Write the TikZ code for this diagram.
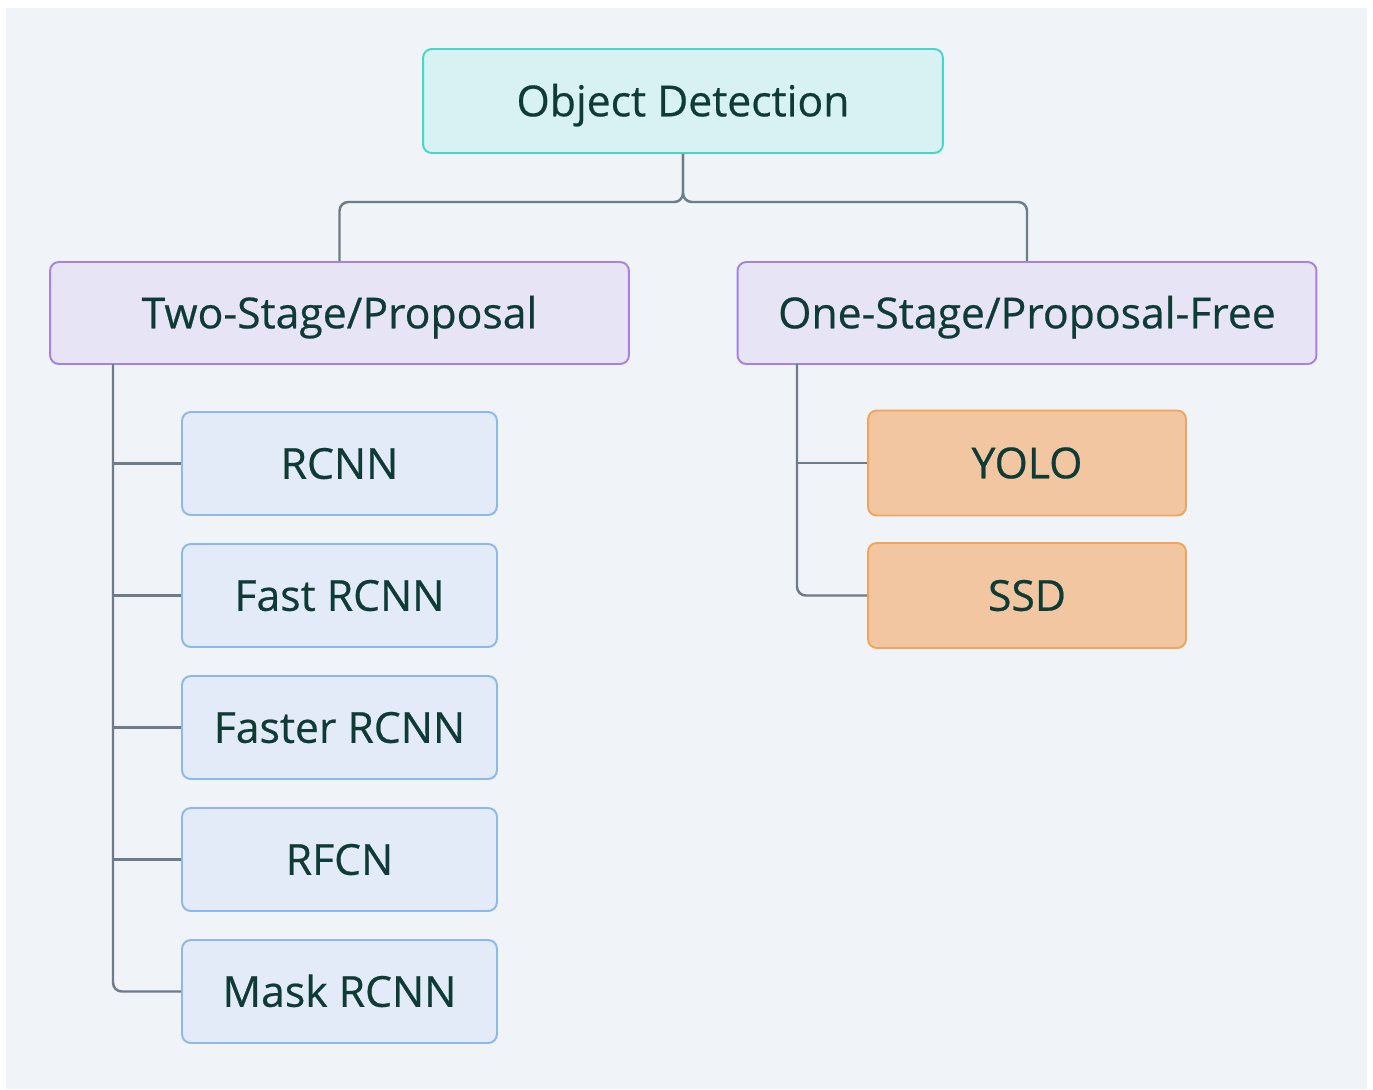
\documentclass[tikz,border=0pt]{standalone}
\usepackage{fontspec}
\setmainfont{Open Sans}
\newfontfamily\boxfont[FakeBold=0.5]{Open Sans}
\usetikzlibrary{positioning}

\definecolor{bgcol}{HTML}{F0F3F8}
\definecolor{txtcol}{HTML}{0F3B37}
\definecolor{linkcol}{HTML}{6E7C8A}
\definecolor{rootfill}{HTML}{D8F2F3}
\definecolor{rootdraw}{HTML}{45D8C8}
\definecolor{catfill}{HTML}{E7E4F6}
\definecolor{catdraw}{HTML}{A582E6}
\definecolor{twofill}{HTML}{E2EBF7}
\definecolor{twodraw}{HTML}{8BB8EE}
\definecolor{onefill}{HTML}{F2C6A0}
\definecolor{onedraw}{HTML}{F0A45C}

\tikzset{
	box/.style={draw, line width=1.1pt, rounded corners=5pt, text=txtcol,
		font=\boxfont\fontsize{24.3}{28}\selectfont, inner sep=0pt,
		text height=17.4pt, text depth=0pt},
	rootbox/.style={box, fill=rootfill, draw=rootdraw, minimum width=10.4cm, minimum height=2.08cm},
	catbox/.style={box, fill=catfill, draw=catdraw, minimum width=11.58cm, minimum height=2.04cm},
	twobox/.style={box, fill=twofill, draw=twodraw, minimum width=6.3cm, minimum height=2.06cm},
	onebox/.style={box, fill=onefill, draw=onedraw, minimum width=6.36cm, minimum height=2.1cm},
	link/.style={draw=linkcol, line width=1.4pt}
}

\begin{document}
\begin{tikzpicture}[x=0.02cm, y=-0.02cm]
		% page and backdrop
		\useasboundingbox (0,0) rectangle (1373,1089);
		\fill[bgcol] (6,8) rectangle (1367,1089);

		% root and the two families
		\node[rootbox] (od) at (683,101) {Object Detection};
		\node[catbox] (two) at (339.5,313) {Two-Stage/Proposal};
		\node[catbox] (one) at (1027,313) {One-Stage/Proposal-Free};

		\coordinate (split) at (683,202);
		\draw[link, rounded corners=5pt] (od.south) -- (split) -| (two.north);
		\draw[link, rounded corners=5pt] (od.south) -- (split) -| (one.north);

		% two-stage detectors, hung off one spine
		\coordinate (twospine) at (113,364);
		\foreach \name/\label [count=\i] in {rcnn/RCNN, fast/Fast RCNN, faster/Faster RCNN, rfcn/RFCN, mask/Mask RCNN} {
			\node[twobox] (\name) at (339.5, {463.5+132*(\i-1)}) {\label};
			\ifnum\i=5
				\draw[link, rounded corners=5pt] (twospine) |- (\name.west);
			\else
				\draw[link] (twospine) |- (\name.west);
			\fi
		}

		% one-stage detectors
		\coordinate (onespine) at (797,364);
		\node[onebox] (yolo) at (1027,463) {YOLO};
		\node[onebox] (ssd) at (1027,595.5) {SSD};
		\draw[link] (onespine) |- (yolo.west);
		\draw[link, rounded corners=5pt] (onespine) |- (ssd.west);
\end{tikzpicture}
\end{document}
